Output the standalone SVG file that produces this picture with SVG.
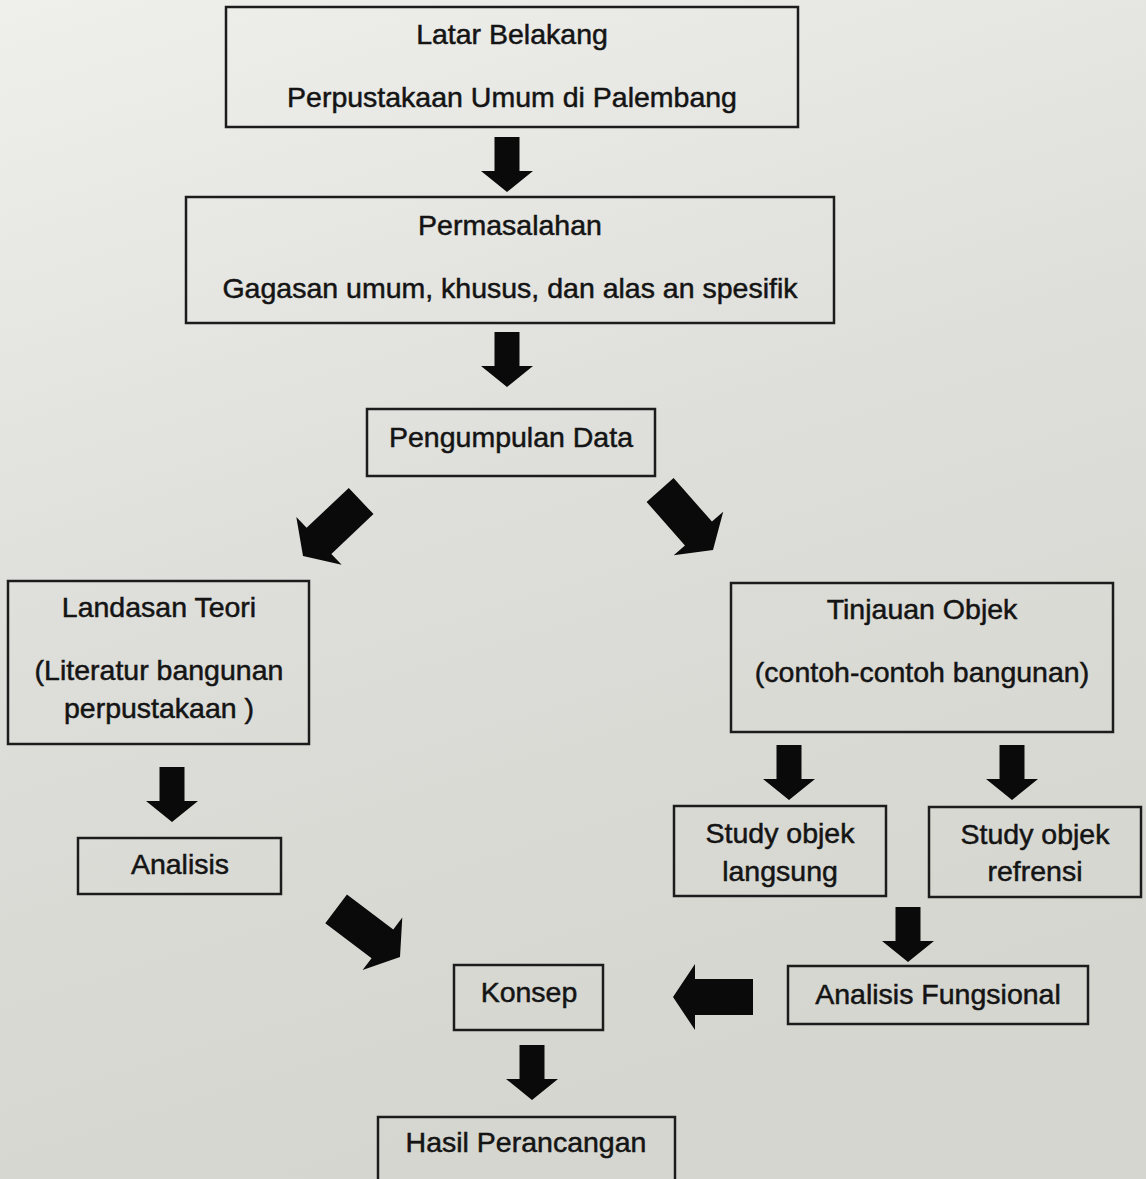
<svg xmlns="http://www.w3.org/2000/svg" xmlns:xlink="http://www.w3.org/1999/xlink" width="1146" height="1179" viewBox="0 0 1146 1179">
<style>
.box{fill:none;stroke:#1c1c1c;stroke-width:2.5}
.t{font-family:"Liberation Sans",Arial,sans-serif;font-size:28.5px;fill:#141414;stroke:#141414;stroke-width:0.5;text-anchor:middle;dominant-baseline:middle}
.arr{fill:#0a0a0a}
</style>
<defs>
<linearGradient id="bg" x1="0" y1="0" x2="0.3" y2="1">
<stop offset="0" stop-color="#efefeb"/>
<stop offset="0.5" stop-color="#dededa"/>
<stop offset="1" stop-color="#d6d6d0"/>
</linearGradient>
<path id="arrS" d="M0,0 L-21,-26 L-21,-12.5 L-55,-12.5 L-55,12.5 L-21,12.5 L-21,26 Z"/>
<path id="arrB" d="M0,0 L-22,-33 L-22,-18 L-80,-18 L-80,18 L-22,18 L-22,33 Z"/>
</defs>
<rect x="0" y="0" width="1146" height="1179" fill="url(#bg)"/>

<g id="latar-belakang">
<rect class="box" x="226" y="7" width="572" height="120"/>
<text class="t" x="512" y="36">Latar Belakang</text>
<text class="t" x="512" y="99">Perpustakaan Umum di Palembang</text>
</g>
<g id="permasalahan">
<rect class="box" x="186" y="197" width="648" height="126"/>
<text class="t" x="510" y="227">Permasalahan</text>
<text class="t" x="510" y="290">Gagasan umum, khusus, dan alas an spesifik</text>
</g>
<g id="pengumpulan-data">
<rect class="box" x="367" y="409" width="288" height="67"/>
<text class="t" x="511" y="439">Pengumpulan Data</text>
</g>
<g id="landasan-teori">
<rect class="box" x="8" y="581" width="301" height="163"/>
<text class="t" x="159" y="609">Landasan Teori</text>
<text class="t" x="159" y="672">(Literatur bangunan</text>
<text class="t" x="159" y="710">perpustakaan )</text>
</g>
<g id="tinjauan-objek">
<rect class="box" x="731" y="583" width="382" height="149"/>
<text class="t" x="922" y="611">Tinjauan Objek</text>
<text class="t" x="922" y="674">(contoh-contoh bangunan)</text>
</g>
<g id="analisis">
<rect class="box" x="78" y="838" width="203" height="56"/>
<text class="t" x="180" y="866">Analisis</text>
</g>
<g id="study-langsung">
<rect class="box" x="674" y="806" width="212" height="90"/>
<text class="t" x="780" y="835">Study objek</text>
<text class="t" x="780" y="873">langsung</text>
</g>
<g id="study-refrensi">
<rect class="box" x="929" y="807" width="212" height="90"/>
<text class="t" x="1035" y="836">Study objek</text>
<text class="t" x="1035" y="873">refrensi</text>
</g>
<g id="analisis-fungsional">
<rect class="box" x="788" y="966" width="300" height="58"/>
<text class="t" x="938" y="996">Analisis Fungsional</text>
</g>
<g id="konsep">
<rect class="box" x="454" y="965" width="149" height="65"/>
<text class="t" x="529" y="994">Konsep</text>
</g>
<g id="hasil-perancangan">
<rect class="box" x="378" y="1117" width="297" height="70"/>
<text class="t" x="526" y="1144">Hasil Perancangan</text>
</g>

<g id="connectors" class="arr">
<use xlink:href="#arrS" transform="translate(507,192) rotate(90)"/>
<use xlink:href="#arrS" transform="translate(507,387) rotate(90)"/>
<use xlink:href="#arrB" transform="translate(303,556) rotate(136.6)"/>
<use xlink:href="#arrB" transform="translate(713,550) rotate(48.6)"/>
<use xlink:href="#arrS" transform="translate(172,822) rotate(90)"/>
<use xlink:href="#arrS" transform="translate(789,800) rotate(90)"/>
<use xlink:href="#arrS" transform="translate(1012,800) rotate(90)"/>
<use xlink:href="#arrS" transform="translate(908,962) rotate(90)"/>
<use xlink:href="#arrB" transform="translate(400,957) rotate(37)"/>
<use xlink:href="#arrB" transform="translate(673,997) rotate(180)"/>
<use xlink:href="#arrS" transform="translate(532,1100) rotate(90)"/>
</g>
</svg>
